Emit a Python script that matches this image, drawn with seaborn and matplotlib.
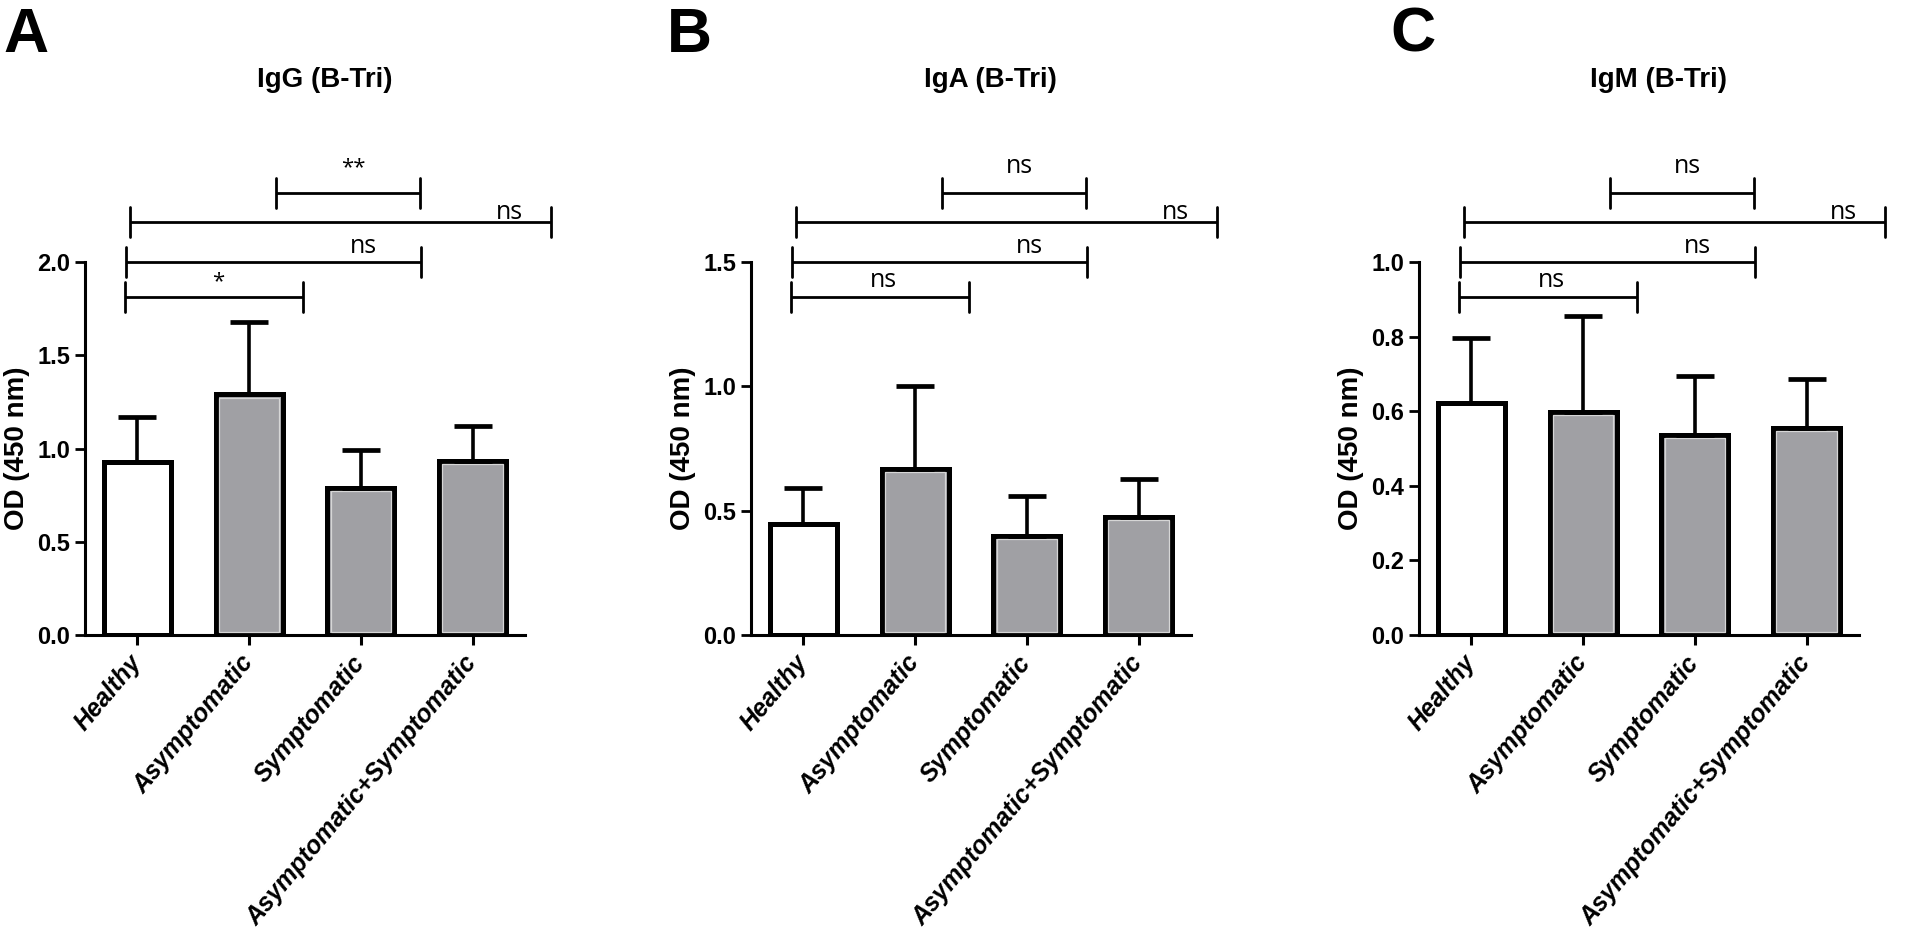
import numpy as np
import matplotlib
matplotlib.use("Agg")
import matplotlib.pyplot as plt
import seaborn as sns
from matplotlib.patches import Rectangle

# groups and values (mean OD and upper SD)
groups = ["Healthy", "Asymptomatic", "Symptomatic", "Asymptomatic+Symptomatic"]

igg_mean = [0.93, 1.29, 0.79, 0.935]
igg_sd = [0.24, 0.39, 0.20, 0.185]

iga_mean = [0.446, 0.668, 0.40, 0.475]
iga_sd = [0.144, 0.332, 0.16, 0.152]

igm_mean = [0.622, 0.598, 0.536, 0.555]
igm_sd = [0.174, 0.257, 0.158, 0.131]

titles = ["IgG (B-Tri)", "IgA (B-Tri)", "IgM (B-Tri)"]
letters = ["A", "B", "C"]
y_tops = [2.0, 1.5, 1.0]
y_steps = [0.5, 0.5, 0.2]

# significance labels (Healthy-Asym, Healthy-Sym, Healthy-A+S, Asym-Sym)
igg_sig = ["*", "ns", "ns", "**"]
iga_sig = ["ns", "ns", "ns", "ns"]
igm_sig = ["ns", "ns", "ns", "ns"]

# bracket layout
br_left = [-0.11, -0.10, -0.07, 1.24]
br_right = [1.48, 2.54, 3.70, 2.53]
br_text_x = [0.72, 2.02, 3.33, 1.93]
br_y = [0.906, 1.0, 1.107, 1.185]
br_text_y = [0.933, 1.024, 1.115, 1.239]

colors = ["white", "#a0a0a4", "#a0a0a4", "#a0a0a4"]

sns.set_style("ticks")
plt.rcParams["font.family"] = ["Liberation Sans", "DejaVu Sans"]
plt.rcParams.update({"text.color": "black", "axes.labelcolor": "black",
                     "xtick.color": "black", "ytick.color": "black",
                     "axes.edgecolor": "black"})

W, H = 1907, 951
fig = plt.figure(figsize=(W / 100, H / 100), dpi=100)

ax_left_px = [85, 751, 1419]
letter_x_px = [3, 667, 1390]
ax_w_px = 440
ax_bottom_px = 635
ax_top_px = 262

means = [igg_mean, iga_mean, igm_mean]
sds = [igg_sd, iga_sd, igm_sd]
sigs = [igg_sig, iga_sig, igm_sig]

for i in range(3):
    ax = fig.add_axes([ax_left_px[i] / W, (H - ax_bottom_px) / H,
                       ax_w_px / W, (ax_bottom_px - ax_top_px) / H])
    sns.barplot(x=groups, y=means[i], hue=groups, palette=colors, legend=False,
                saturation=1, width=0.6, edgecolor="black", linewidth=3.6,
                ax=ax, zorder=2)
    ax.errorbar(x=np.arange(len(groups)), y=means[i],
                yerr=[np.zeros(len(groups)), sds[i]], fmt="none",
                ecolor="black", elinewidth=2.6, capsize=14, capthick=3.4,
                zorder=3)

    ax.set_xlim(-0.47, 3.47)
    ax.set_ylim(0, y_tops[i])
    ax.set_yticks(np.arange(0, y_tops[i] + 1e-9, y_steps[i]))
    ax.set_yticklabels([f"{v:.1f}" for v in ax.get_yticks()],
                       fontsize=17, fontweight="bold")

    # thin light inner line on the grey bars
    dx = 3.2 / (ax_w_px / 3.94)
    dy = 3.2 * y_tops[i] / (ax_bottom_px - ax_top_px)
    for p in ax.patches[:len(groups)]:
        if p.get_facecolor()[0] < 0.9:
            ax.add_patch(Rectangle((p.get_x() + dx, p.get_y() + dy),
                                   p.get_width() - 2 * dx, p.get_height() - 2 * dy,
                                   fill=False, edgecolor="#d6d6d6", lw=0.9,
                                   zorder=2.5))

    ax.set_xticks(range(len(groups)))
    ax.set_xticklabels(groups, rotation=50, ha="right", va="center",
                       rotation_mode="anchor", fontsize=18,
                       fontweight="bold", fontstyle="italic")
    ax.tick_params(axis="x", length=7, width=2.2, pad=10)
    ax.tick_params(axis="y", length=7, width=2.0, pad=3.5)
    sns.despine(ax=ax)
    for s in ["left", "bottom"]:
        ax.spines[s].set_linewidth(2.2)
    ax.set_xlabel("")
    ax.set_ylabel("OD (450 nm)", fontsize=20, fontweight="bold")
    ax.yaxis.label.set_va("center")
    ax.yaxis.set_label_coords(-0.155, 0.5)

    # title and panel letter
    ax.text(0.545, (ax_bottom_px - 87) / (ax_bottom_px - ax_top_px), titles[i],
            transform=ax.transAxes, ha="center", va="baseline",
            fontsize=20, fontweight="bold")
    fig.text(letter_x_px[i] / W, 1 - 52 / H, letters[i], ha="left",
             va="baseline", fontsize=45, fontweight="bold")

    # significance brackets
    trans = ax.get_xaxis_transform()
    h = 0.04
    for k in range(4):
        l, r, y = br_left[k], br_right[k], br_y[k]
        ax.plot([l, r], [y, y], color="black", lw=2.0, transform=trans,
                clip_on=False, solid_capstyle="butt")
        ax.plot([l, l], [y - h, y + h], color="black", lw=2.0,
                transform=trans, clip_on=False)
        ax.plot([r, r], [y - h, y + h], color="black", lw=2.0,
                transform=trans, clip_on=False)
        lab = sigs[i][k]
        ax.text(br_text_x[k], br_text_y[k], lab, transform=trans,
                ha="center", va="baseline",
                fontsize=18 if lab == "ns" else 16,
                family=["Open Sans", "DejaVu Sans"])

fig.savefig("out.png", dpi=100)
